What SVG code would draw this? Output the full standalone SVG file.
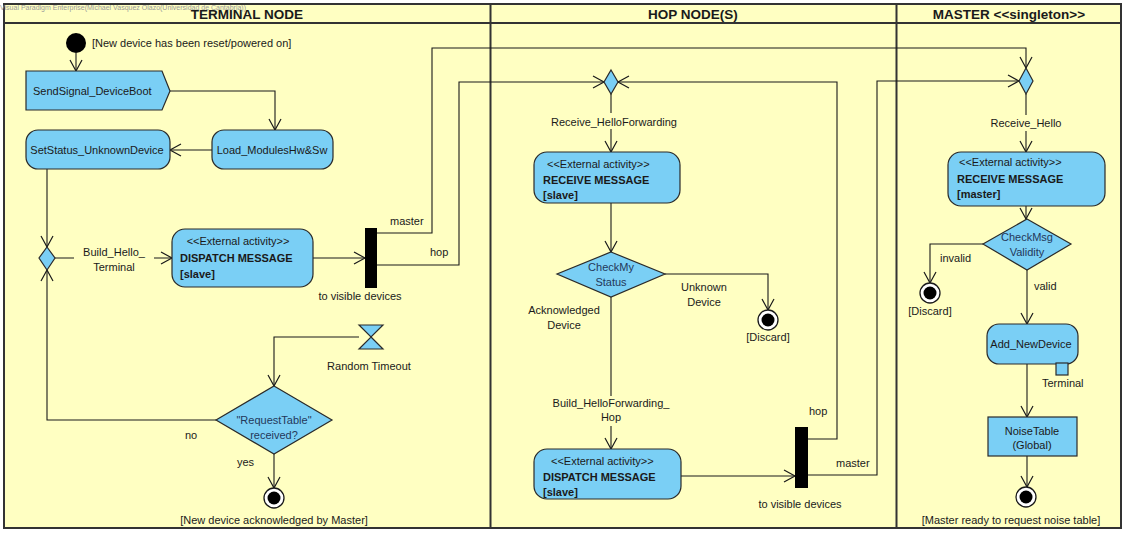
<svg xmlns="http://www.w3.org/2000/svg" width="1127" height="534" viewBox="0 0 1127 534">
<defs>
<marker id="arr" markerUnits="userSpaceOnUse" markerWidth="14" markerHeight="14" viewBox="0 0 14 14" refX="12" refY="7" orient="auto">
<path d="M1,1 L12,7 L1,13" fill="none" stroke="#1a1a1a" stroke-width="1.2"/>
</marker>
</defs>
<style>
text{font-family:"Liberation Sans",Arial,sans-serif;font-size:11px;fill:#1a1a1a}
.hdr{font-size:13.5px;font-weight:bold;text-anchor:middle}
.b{font-weight:bold}
.m{text-anchor:middle}
.dec{fill:#24385a}
.act{fill:#7acff5;stroke:#2a2a2a;stroke-width:1.2}
.bar{fill:#000}
.con{fill:none;stroke:#1a1a1a;stroke-width:1.1;marker-end:url(#arr)}
.lane{fill:#ffffc2;stroke:#333;stroke-width:2}
.lbg{fill:#ffffc2}
</style>
<g id="swimlanes">
<rect class="lane" x="4" y="4" width="1117" height="524"/>
<line x1="4" y1="23" x2="1121" y2="23" stroke="#333" stroke-width="2"/>
<line x1="490.5" y1="4" x2="490.5" y2="528" stroke="#333" stroke-width="2"/>
<line x1="896.5" y1="4" x2="896.5" y2="528" stroke="#333" stroke-width="2"/>
<text class="hdr" x="247" y="19">TERMINAL NODE</text>
<text class="hdr" x="693" y="19">HOP NODE(S)</text>
<text class="hdr" x="1009" y="19">MASTER &lt;&lt;singleton&gt;&gt;</text>
<text x="0" y="10" style="font-size:7px;fill:#9a9a9a">Visual Paradigm Enterprise(Michael Vasquez Olazo(Universidad de Cantabria))</text>
</g>
<g id="connectors">
<path class="con" d="M76,53 V71"/>
<path class="con" d="M170,91 H275 V130"/>
<path class="con" d="M212,150 H170"/>
<path class="con" d="M47,169 V247"/>
<path class="con" d="M55,258 H172"/>
<path class="con" d="M313,258 H365"/>
<path class="con" d="M377,233 H432 V48 H1026 V68"/>
<path class="con" d="M377,265 H459 V82 H604"/>
<path class="con" d="M611,94 V152"/>
<path class="con" d="M611,203 V252"/>
<path class="con" d="M665,274 H768 V310"/>
<path class="con" d="M611,297 V449"/>
<path class="con" d="M681,476 H795"/>
<path class="con" d="M808,439 H837 V82 H618"/>
<path class="con" d="M808,475 H877 V81 H1019"/>
<path class="con" d="M1026,94 V152"/>
<path class="con" d="M1026,206 V219"/>
<path class="con" d="M983,244 H930 V283"/>
<path class="con" d="M1027,270 V324"/>
<path class="con" d="M1027,364 V417"/>
<path class="con" d="M1027,456 V487"/>
<path class="con" d="M359,337 H274 V386"/>
<path class="con" d="M216,420 H47 V270"/>
<path class="con" d="M274,454 V488"/>
</g>
<g id="connector-labels">
<rect class="lbg" x="74" y="246" width="80" height="28"/>
<text class="m" x="114" y="256">Build_Hello_</text>
<text class="m" x="114" y="271">Terminal</text>
<text x="390" y="225">master</text>
<text x="430" y="256">hop</text>
<text class="m" x="360" y="300">to visible devices</text>
<rect class="lbg" x="548" y="113" width="132" height="16"/>
<text class="m" x="614" y="126">Receive_HelloForwarding</text>
<text class="m" x="704" y="291">Unknown</text>
<text class="m" x="704" y="306">Device</text>
<text class="m" x="564" y="314">Acknowledged</text>
<text class="m" x="564" y="329">Device</text>
<rect class="lbg" x="548" y="396" width="126" height="30"/>
<text class="m" x="611" y="407">Build_HelloForwarding_</text>
<text class="m" x="611" y="421">Hop</text>
<text x="809" y="415">hop</text>
<text x="836" y="467">master</text>
<text class="m" x="800" y="508">to visible devices</text>
<rect class="lbg" x="988" y="115" width="76" height="16"/>
<text class="m" x="1026" y="127">Receive_Hello</text>
<text x="940" y="262">invalid</text>
<text x="1034" y="290">valid</text>
<text x="1042" y="387">Terminal</text>
<text class="m" x="369" y="370">Random Timeout</text>
<text x="185" y="439">no</text>
<text x="237" y="466">yes</text>
</g>
<g id="initial">
<circle cx="76" cy="43" r="10" fill="#000"/>
<text x="92" y="47">[New device has been reset/powered on]</text>
</g>
<g id="send-signal">
<path class="act" d="M26,71 H162 L170,91 L162,110 H26 Z"/>
<text x="33" y="95">SendSignal_DeviceBoot</text>
</g>
<g id="load-modules">
<rect class="act" x="212" y="130" width="121" height="39" rx="12"/>
<text class="m" x="272" y="154">Load_ModulesHw&amp;Sw</text>
</g>
<g id="set-status">
<rect class="act" x="26" y="130" width="144" height="39" rx="12"/>
<text class="m" x="97" y="154">SetStatus_UnknownDevice</text>
</g>
<g id="merge-terminal">
<path class="act" d="M47,247 L55,258 L47,270 L39,258 Z"/>
</g>
<g id="dispatch-terminal">
<rect class="act" x="172" y="229" width="141" height="58" rx="13"/>
<text class="m" x="238" y="245">&lt;&lt;External activity&gt;&gt;</text>
<text class="b" x="180" y="262">DISPATCH MESSAGE</text>
<text class="b" x="180" y="278">[slave]</text>
</g>
<g id="fork-terminal">
<rect class="bar" x="365" y="228" width="12" height="60"/>
</g>
<g id="timeout">
<path class="act" d="M359,325 H383 L371,337 Z M371,337 L383,349 H359 Z"/>
</g>
<g id="request-table">
<path class="act" d="M274,386 L332,420 L274,454 L216,420 Z"/>
<text class="m dec" x="274" y="424">"RequestTable"</text>
<text class="m dec" x="274" y="439">received?</text>
</g>
<g id="final-terminal">
<circle cx="274" cy="498" r="10" fill="#fff" stroke="#1a1a1a" stroke-width="1.3"/>
<circle cx="274" cy="498" r="6.5" fill="#000"/>
<text class="m" x="274" y="524">[New device acknowledged by Master]</text>
</g>
<g id="merge-hop">
<path class="act" d="M611,70 L618,82 L611,94 L604,82 Z"/>
</g>
<g id="receive-hop">
<rect class="act" x="534" y="152" width="146" height="51" rx="13"/>
<text x="547" y="168">&lt;&lt;External activity&gt;&gt;</text>
<text class="b" x="543" y="184">RECEIVE MESSAGE</text>
<text class="b" x="543" y="199">[slave]</text>
</g>
<g id="check-status">
<path class="act" d="M611,252 L665,274 L611,297 L557,274 Z"/>
<text class="m dec" x="611" y="271">CheckMy</text>
<text class="m dec" x="611" y="286">Status</text>
</g>
<g id="discard-hop">
<circle cx="768" cy="320" r="10" fill="#fff" stroke="#1a1a1a" stroke-width="1.3"/>
<circle cx="768" cy="320" r="6.5" fill="#000"/>
<text class="m" x="768" y="341">[Discard]</text>
</g>
<g id="dispatch-hop">
<rect class="act" x="534" y="449" width="147" height="50" rx="13"/>
<text x="551" y="465">&lt;&lt;External activity&gt;&gt;</text>
<text class="b" x="543" y="481">DISPATCH MESSAGE</text>
<text class="b" x="543" y="496">[slave]</text>
</g>
<g id="fork-hop">
<rect class="bar" x="795" y="427" width="13" height="61"/>
</g>
<g id="merge-master">
<path class="act" d="M1026,68 L1033,81 L1026,94 L1019,81 Z"/>
</g>
<g id="receive-master">
<rect class="act" x="948" y="152" width="157" height="54" rx="13"/>
<text x="959" y="166">&lt;&lt;External activity&gt;&gt;</text>
<text class="b" x="957" y="183">RECEIVE MESSAGE</text>
<text class="b" x="957" y="198">[master]</text>
</g>
<g id="check-validity">
<path class="act" d="M1027,219 L1071,244 L1027,270 L983,244 Z"/>
<text class="m dec" x="1027" y="241">CheckMsg</text>
<text class="m dec" x="1027" y="256">Validity</text>
</g>
<g id="discard-master">
<circle cx="930" cy="293" r="10" fill="#fff" stroke="#1a1a1a" stroke-width="1.3"/>
<circle cx="930" cy="293" r="6.5" fill="#000"/>
<text class="m" x="930" y="315">[Discard]</text>
</g>
<g id="add-device">
<rect class="act" x="987" y="324" width="91" height="40" rx="12"/>
<text class="m" x="1031" y="348">Add_NewDevice</text>
<rect class="act" x="1056" y="363" width="12" height="12" rx="0"/>
</g>
<g id="noise-table">
<rect class="act" x="988" y="417" width="89" height="39"/>
<text class="m" x="1032" y="435">NoiseTable</text>
<text class="m" x="1032" y="449">(Global)</text>
</g>
<g id="final-master">
<circle cx="1026" cy="497" r="10" fill="#fff" stroke="#1a1a1a" stroke-width="1.3"/>
<circle cx="1026" cy="497" r="6.5" fill="#000"/>
<text class="m" x="1011" y="524">[Master ready to request noise table]</text>
</g>
</svg>
